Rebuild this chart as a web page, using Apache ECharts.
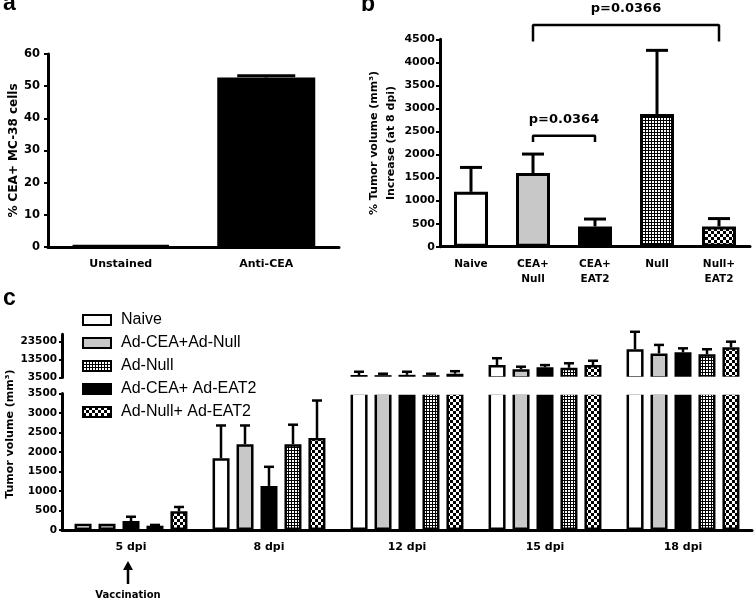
<!DOCTYPE html>
<html><head><meta charset="utf-8">
<script src="https://cdn.jsdelivr.net/npm/echarts@6/dist/echarts.min.js"></script>
<style>html,body{margin:0;padding:0;background:#fff}#c{width:755px;height:600px}</style>
</head><body><div id="c"></div>
<script>
// ---------- data ----------
const aCategories = ['Unstained', 'Anti-CEA'];
const aValues = [0.5, 52.7];
const aErrorTops = [0.5, 53.2];
const aFills = ['white', 'black'];

const bCategories = ['Naive', 'CEA+\nNull', 'CEA+\nEAT2', 'Null', 'Null+\nEAT2'];
const bValues = [1190, 1600, 440, 2880, 440];
const bErrorTops = [1720, 2010, 600, 4260, 610];
const bFills = ['white', 'gray', 'black', 'grid', 'checker'];
const bBrackets = [
  { from: 1, to: 2, level: 2410, leg: 2270, text: 'p=0.0364' },
  { from: 1, to: 4, level: 4810, leg: 4450, text: 'p=0.0366' }
];

const cCategories = ['5 dpi', '8 dpi', '12 dpi', '15 dpi', '18 dpi'];
const cSeriesNames = ['Naive', 'Ad-CEA+Ad-Null', 'Ad-CEA+ Ad-EAT2', 'Ad-Null', 'Ad-Null+ Ad-EAT2'];
const cLegendOrder = ['Naive', 'Ad-CEA+Ad-Null', 'Ad-Null', 'Ad-CEA+ Ad-EAT2', 'Ad-Null+ Ad-EAT2'];
const cFills = ['white', 'gray', 'black', 'grid', 'checker'];
const cNaive = [160, 1840, 4900, 10400, 19200];
const cNaiveErr = [160, 2680, 6700, 14200, 28900];
const cCeaNull = [160, 2200, 4800, 8100, 16900];
const cCeaNullErr = [160, 2680, 5600, 9500, 21600];
const cCeaEat2 = [230, 1130, 5000, 9200, 17500];
const cCeaEat2Err = [340, 1620, 6700, 10400, 19700];
const cNull = [110, 2200, 4800, 8900, 16400];
const cNullErr = [130, 2700, 5600, 11400, 19200];
const cNullEat2 = [480, 2360, 5600, 10400, 20300];
const cNullEat2Err = [590, 3320, 7000, 12800, 23400];
const cUpperTicks = [3500, 13500, 23500];
const cBreak = 3500;

// ---------- styles ----------
function makePattern(kind) {
  const c = document.createElement('canvas');
  const g = c.getContext('2d');
  if (kind === 'grid') {
    c.width = 3; c.height = 3;
    g.fillStyle = '#000'; g.fillRect(0, 0, 3, 3);
    g.fillStyle = '#fff'; g.fillRect(1, 1, 2, 2);
  } else {
    c.width = 6; c.height = 6;
    g.fillStyle = '#fff'; g.fillRect(0, 0, 6, 6);
    g.fillStyle = '#000'; g.fillRect(0, 0, 3, 3); g.fillRect(3, 3, 3, 3);
  }
  return { image: c, repeat: 'repeat' };
}
const FILL = { white: '#ffffff', gray: '#c8c8c8', black: '#000000', grid: makePattern('grid'), checker: makePattern('checker') };
const FONT = 'DejaVu Sans';
const axisLine = { show: true, lineStyle: { color: '#000', width: 3 } };
const tick = { show: true, length: 4, lineStyle: { color: '#000', width: 2 } };
const plain = v => String(v);
const lbl = (size, margin, extra) => Object.assign({ color: '#000', fontFamily: FONT, fontWeight: 'bold', fontSize: size, margin: margin }, extra || {});

function errorSeries(gi, data, capHalf, lineW, spacing, filter) {
  return {
    type: 'custom', xAxisIndex: gi, yAxisIndex: gi, data: data, z: 3, silent: true,
    renderItem: function (params, api) {
      const cat = api.value(0), v = api.value(1), e = api.value(2), s = api.value(3), n = api.value(4);
      if (!(e > v) || !filter(v, e)) return null;
      const p0 = api.coord([cat, v]), p1 = api.coord([cat, e]);
      const x = p0[0] + (s - (n - 1) / 2) * spacing;
      const st = { stroke: '#000', lineWidth: lineW };
      return { type: 'group', children: [
        { type: 'line', shape: { x1: x, y1: p0[1], x2: x, y2: p1[1] }, style: st },
        { type: 'line', shape: { x1: x - capHalf, y1: p1[1], x2: x + capHalf, y2: p1[1] }, style: st }
      ] };
    }
  };
}

const cValues = [cNaive, cCeaNull, cCeaEat2, cNull, cNullEat2];
const cErrs = [cNaiveErr, cCeaNullErr, cCeaEat2Err, cNullErr, cNullEat2Err];
const cErrData = [];
cValues.forEach((arr, s) => arr.forEach((v, i) => cErrData.push([i, v, cErrs[s][i], s, cValues.length])));

const series = [];
// panel a
series.push({ type: 'bar', xAxisIndex: 0, yAxisIndex: 0, barWidth: 98, z: 2,
  itemStyle: { borderColor: '#000', borderWidth: 3 },
  data: aValues.map((v, i) => ({ value: v, itemStyle: { color: FILL[aFills[i]] } })) });
series.push(errorSeries(0, aValues.map((v, i) => [i, v, aErrorTops[i], 0, 1]), 29, 3, 0, () => true));
// panel b
series.push({ type: 'bar', xAxisIndex: 1, yAxisIndex: 1, barWidth: 34, z: 2,
  itemStyle: { borderColor: '#000', borderWidth: 3 },
  data: bValues.map((v, i) => ({ value: v, itemStyle: { color: FILL[bFills[i]] } })) });
series.push(errorSeries(1, bValues.map((v, i) => [i, v, bErrorTops[i], 0, 1]), 11, 3, 0, () => true));
bBrackets.forEach(b => series.push({ type: 'line', xAxisIndex: 1, yAxisIndex: 1, symbol: 'none', clip: false, silent: true, z: 4,
  lineStyle: { color: '#000', width: 2.5 },
  data: [[b.from, b.leg], [b.from, b.level], [b.to, b.level], [b.to, b.leg]] }));
// panel c
[2, 3].forEach(gi => {
  cSeriesNames.forEach((name, s) => series.push({
    type: 'bar', name: name, xAxisIndex: gi, yAxisIndex: gi, barWidth: 17, barGap: '41%', clip: true, z: 2,
    itemStyle: { color: FILL[cFills[s]], borderColor: '#000', borderWidth: 2.5 },
    data: cValues[s]
  }));
});
series.push(errorSeries(3, cErrData, 5, 2.5, 24, (v, e) => e <= cBreak));
series.push(errorSeries(2, cErrData, 5, 2.5, 24, (v, e) => v >= cBreak));

const option = {
  animation: false,
  backgroundColor: '#fff',
  grid: [
    { left: 48, top: 54, width: 291, height: 193 },
    { left: 440, top: 39.3, width: 310, height: 207.4 },
    { left: 62, top: 334.3, width: 690, height: 43.2 },
    { left: 62, top: 393.5, width: 690, height: 136.5 }
  ],
  xAxis: [
    { gridIndex: 0, type: 'category', data: aCategories, axisLine: axisLine, axisTick: { show: false }, axisLabel: lbl(11, 12) },
    { gridIndex: 1, type: 'category', data: bCategories, axisLine: axisLine, axisTick: { show: false }, axisLabel: lbl(10.5, 10, { lineHeight: 15 }) },
    { gridIndex: 2, type: 'category', data: cCategories, show: false },
    { gridIndex: 3, type: 'category', data: cCategories, axisLine: axisLine, axisTick: { show: false }, axisLabel: lbl(11, 12) }
  ],
  yAxis: [
    { gridIndex: 0, type: 'value', min: 0, max: 60, interval: 10, axisLine: axisLine, axisTick: tick, splitLine: { show: false },
      axisLabel: lbl(11.5, 8, { formatter: plain }), name: '% CEA+ MC-38 cells', nameLocation: 'middle', nameGap: 28,
      nameTextStyle: { color: '#000', fontFamily: FONT, fontWeight: 'bold', fontSize: 12 } },
    { gridIndex: 1, type: 'value', min: 0, max: 4500, interval: 500, axisLine: axisLine, axisTick: tick, splitLine: { show: false },
      axisLabel: lbl(11, 5, { formatter: plain }), name: '% Tumor volume (mm³)\nIncrease (at 8 dpi)', nameLocation: 'middle', nameGap: 40,
      nameTextStyle: { color: '#000', fontFamily: FONT, fontWeight: 'bold', fontSize: 11, lineHeight: 17 } },
    { gridIndex: 2, type: 'value', min: cBreak, max: 27500, axisLine: axisLine,
      axisTick: { show: true, length: 3, lineStyle: { color: '#000', width: 2 }, customValues: cUpperTicks },
      splitLine: { show: false }, axisLabel: lbl(10.5, 5, { customValues: cUpperTicks, formatter: plain }) },
    { gridIndex: 3, type: 'value', min: 0, max: cBreak, interval: 500, axisLine: axisLine,
      axisTick: { show: true, length: 3, lineStyle: { color: '#000', width: 2 } }, splitLine: { show: false },
      axisLabel: lbl(10.5, 5, { formatter: plain }) }
  ],
  legend: {
    data: cLegendOrder, orient: 'vertical', left: 77, top: 307, itemWidth: 28, itemHeight: 10, itemGap: 7, icon: 'rect',
    selectedMode: false, z: 20,
    textStyle: { color: '#000', fontFamily: 'Liberation Sans', fontSize: 16, lineHeight: 16, padding: [0, 0, 0, 5] }
  },
  series: series
};

const chart = echarts.init(document.getElementById('c'), null, { renderer: 'canvas' });
chart.setOption(option);

// ---------- annotations positioned via the library's scales ----------
const graphics = [];
const panelFont = 'bold 23px "Liberation Sans"';
graphics.push({ type: 'text', x: 3, y: 15, z: 10, style: { text: 'a', font: panelFont, fill: '#000', textVerticalAlign: 'bottom' } });
graphics.push({ type: 'text', x: 361, y: 16, z: 10, style: { text: 'b', font: panelFont, fill: '#000', textVerticalAlign: 'bottom' } });
graphics.push({ type: 'text', x: 3, y: 310, z: 10, style: { text: 'c', font: panelFont, fill: '#000', textVerticalAlign: 'bottom' } });

bBrackets.forEach(b => {
  const p1 = chart.convertToPixel({ gridIndex: 1 }, [b.from, b.level]);
  const p2 = chart.convertToPixel({ gridIndex: 1 }, [b.to, b.level]);
  graphics.push({ type: 'text', x: (p1[0] + p2[0]) / 2, y: p1[1] - 10, z: 10,
    style: { text: b.text, font: 'bold 13px "DejaVu Sans"', fill: '#000', textAlign: 'center', textVerticalAlign: 'bottom' } });
});

// break band between the two segments of panel c (below the legend)
const upBottom = chart.convertToPixel({ gridIndex: 2 }, [0, cBreak]);
const lowTop = chart.convertToPixel({ gridIndex: 3 }, [0, cBreak]);
const lowOrigin = chart.convertToPixel({ gridIndex: 3 }, [0, 0]);
graphics.push({ type: 'rect', z: 3, silent: true,
  shape: { x: 64, y: upBottom[1] - 0.8, width: 691, height: lowTop[1] - upBottom[1] + 2 },
  style: { fill: '#fff' } });

// panel c y title
const upTop = chart.convertToPixel({ gridIndex: 2 }, [0, 27500]);
graphics.push({ type: 'text', x: 10, y: (upTop[1] + lowOrigin[1]) / 2 + 2, rotation: Math.PI / 2, z: 10,
  style: { text: 'Tumor volume (mm³)', font: 'bold 11px "DejaVu Sans"', fill: '#000', textAlign: 'center', textVerticalAlign: 'middle' } });

// vaccination arrow under 5 dpi
const ax = lowOrigin[0] - 3;
const ay = lowOrigin[1];
graphics.push({ type: 'line', z: 10, shape: { x1: ax, y1: ay + 54, x2: ax, y2: ay + 36 }, style: { stroke: '#000', lineWidth: 2.5 } });
graphics.push({ type: 'polygon', z: 10, shape: { points: [[ax - 5, ay + 40], [ax + 5, ay + 40], [ax, ay + 31]] }, style: { fill: '#000' } });
graphics.push({ type: 'text', x: ax, y: ay + 65, z: 10,
  style: { text: 'Vaccination', font: 'bold 10px "DejaVu Sans"', fill: '#000', textAlign: 'center', textVerticalAlign: 'middle' } });

chart.setOption({ graphic: graphics });
</script>
</body></html>
